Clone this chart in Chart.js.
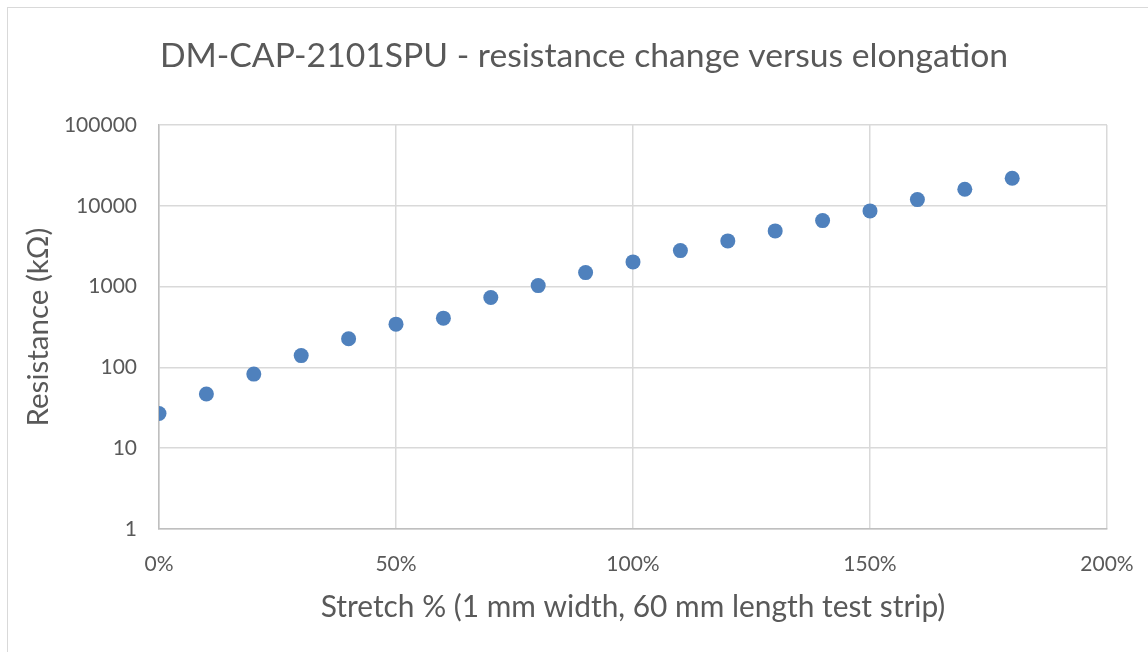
<!DOCTYPE html>
<html>
<head>
<meta charset="utf-8">
<script src="https://cdn.jsdelivr.net/npm/chart.js@4.4.1/dist/chart.umd.min.js"></script>
<style>
  html, body { margin: 0; padding: 0; background: #ffffff; }
  #wrap { position: relative; width: 1148px; height: 652px; overflow: hidden; }
  #frame { position: absolute; left: 7px; top: 7px; width: 1200px; height: 700px;
           border-left: 1.5px solid #d9d9d9; border-top: 1.5px solid #d9d9d9; box-sizing: border-box; }
  canvas { position: absolute; left: 0; top: 0; }
</style>
</head>
<body>
<div id="wrap">
  <div id="frame"></div>
  <canvas id="c" width="1148" height="652"></canvas>
</div>
<script>
const chartTitle = "DM-CAP-2101SPU - resistance change versus elongation";
const xAxisTitle = "Stretch % (1 mm width, 60 mm length test strip)";
const yAxisTitle = "Resistance (kΩ)";
const stretchPercent = [0, 10, 20, 30, 40, 50, 60, 70, 80, 90, 100, 110, 120, 130, 140, 150, 160, 170, 180];
const resistanceKOhm = [26.9, 46.8, 82.6, 140, 226, 343, 407, 732, 1030, 1492, 2024, 2792, 3680, 4894, 6560, 8650, 11940, 16040, 21940];
const yTicks = [1, 10, 100, 1000, 10000, 100000];
const xTicks = [0, 50, 100, 150, 200];

const fontFamily = "Lato, 'Open Sans', sans-serif";
const textColor = "#595959";

const points = stretchPercent.map((x, i) => ({ x: x, y: resistanceKOhm[i] }));

new Chart(document.getElementById('c'), {
  type: 'scatter',
  data: {
    datasets: [{
      data: points,
      backgroundColor: '#4f81bd',
      borderColor: '#4f81bd',
      pointRadius: 7.5,
      pointHoverRadius: 7.5,
      borderWidth: 0
    }]
  },
  options: {
    responsive: false,
    animation: false,
    layout: { padding: { left: 20, right: 0, top: 0, bottom: 0 } },
    plugins: {
      legend: { display: false },
      tooltip: { enabled: false },
      title: {
        display: true,
        text: chartTitle,
        color: textColor,
        font: { family: fontFamily, size: 33.7, weight: 'normal', lineHeight: 1.2 },
        padding: { top: 36.2, bottom: 48.4 }
      }
    },
    scales: {
      x: {
        type: 'linear',
        min: 0, max: 200,
        afterBuildTicks: (s) => { s.ticks = xTicks.map(v => ({ value: v })); },
        afterFit: (s) => { s.height = 123; s.paddingLeft = 0; s.paddingRight = 41; },
        grid: { color: '#d9d9d9', lineWidth: 1.5, drawTicks: false },
        border: { color: '#bfbfbf', width: 1.5 },
        ticks: {
          color: textColor,
          padding: 23,
          font: { family: fontFamily, size: 21 },
          callback: (v) => v + '%',
          maxRotation: 0
        },
        title: {
          display: true,
          text: xAxisTitle,
          color: textColor,
          font: { family: fontFamily, size: 29.9, lineHeight: 1.2 },
          padding: { top: 0, bottom: 27 }
        }
      },
      y: {
        type: 'logarithmic',
        min: 1, max: 100000,
        afterBuildTicks: (s) => { s.ticks = yTicks.map(v => ({ value: v })); },
        afterFit: (s) => { s.width = 139; },
        grid: { color: '#d9d9d9', lineWidth: 1.5, drawTicks: false },
        border: { color: '#bfbfbf', width: 1.5 },
        ticks: {
          color: textColor,
          padding: 22,
          font: { family: fontFamily, size: 21 },
          callback: (v) => String(v)
        },
        title: {
          display: true,
          text: yAxisTitle,
          color: textColor,
          font: { family: fontFamily, size: 29.5, lineHeight: 1.2 },
          padding: { top: 0.5, bottom: 0 }
        }
      }
    }
  }
});
</script>
</body>
</html>
